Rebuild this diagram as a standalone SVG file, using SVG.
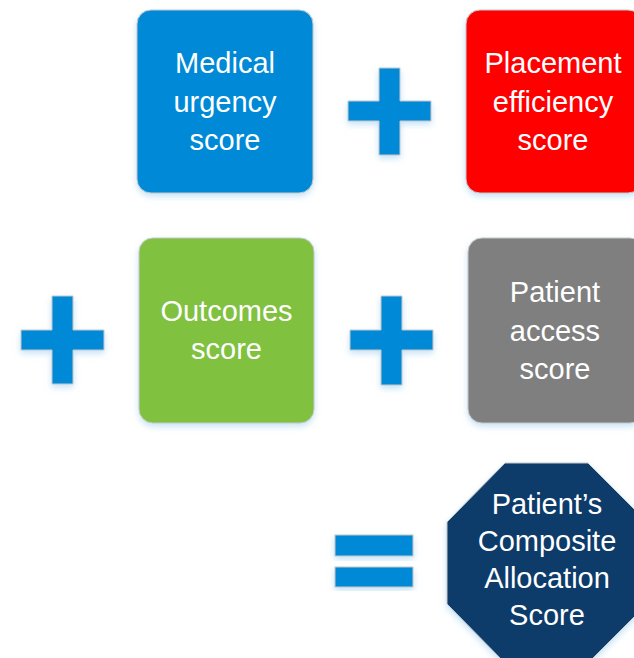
<svg xmlns="http://www.w3.org/2000/svg" width="634" height="658" viewBox="0 0 634 658">
<defs>
<filter id="glow" x="-20%" y="-20%" width="140%" height="140%">
<feGaussianBlur in="SourceAlpha" stdDeviation="3"/>
<feOffset dx="0" dy="3" result="b"/>
<feFlood flood-color="#9fd0f0" flood-opacity="0.6"/>
<feComposite in2="b" operator="in"/>
<feMerge><feMergeNode/><feMergeNode in="SourceGraphic"/></feMerge>
</filter>
</defs>
<style>
.box{stroke:#c8c8c8;stroke-width:1;filter:url(#glow)}
.op{fill:#0389d7;stroke:#c8c8c8;stroke-width:1;filter:url(#glow)}
text{font-family:"Liberation Sans",Arial,sans-serif;font-size:29px;fill:#ffffff;text-anchor:middle}
</style>
<rect width="634" height="658" fill="#ffffff"/>
<g id="medical">
<rect class="box" x="137" y="10" width="176" height="183" rx="14" fill="#0389d7"/>
<text x="225" y="73">Medical</text>
<text x="225" y="112">urgency</text>
<text x="225" y="150">score</text>
</g>
<g id="placement">
<rect class="box" x="466" y="10" width="176" height="183" rx="14" fill="#ff0000"/>
<text x="553" y="73">Placement</text>
<text x="553" y="112">efficiency</text>
<text x="553" y="150">score</text>
</g>
<g id="outcomes">
<rect class="box" x="139" y="238" width="175" height="185" rx="14" fill="#80c141"/>
<text x="226.5" y="321">Outcomes</text>
<text x="226.5" y="359">score</text>
</g>
<g id="access">
<rect class="box" x="468" y="238" width="176" height="185" rx="14" fill="#7f7f7f"/>
<text x="555" y="302">Patient</text>
<text x="555" y="341">access</text>
<text x="555" y="379">score</text>
</g>
<g id="composite">
<polygon class="box" points="505,463 588,463 647,522 647,604 588,663 505,663 447,604 447,522" fill="#0e3a6a"/>
<text x="547" y="514">Patient’s</text>
<text x="547" y="551">Composite</text>
<text x="547" y="588">Allocation</text>
<text x="547" y="625">Score</text>
</g>
<g id="operators">
<polygon class="op" points="379,68 400,68 400,101 431,101 431,121 400,121 400,155 379,155 379,121 348,121 348,101 379,101"/>
<polygon class="op" points="52,296 73,296 73,330 104,330 104,350 73,350 73,384 52,384 52,350 21,350 21,330 52,330"/>
<polygon class="op" points="381,296 402,296 402,330 433,330 433,350 402,350 402,385 381,385 381,350 350,350 350,330 381,330"/>
<rect class="op" x="335" y="535" width="78" height="21"/>
<rect class="op" x="335" y="567" width="78" height="20"/>
</g>
</svg>
